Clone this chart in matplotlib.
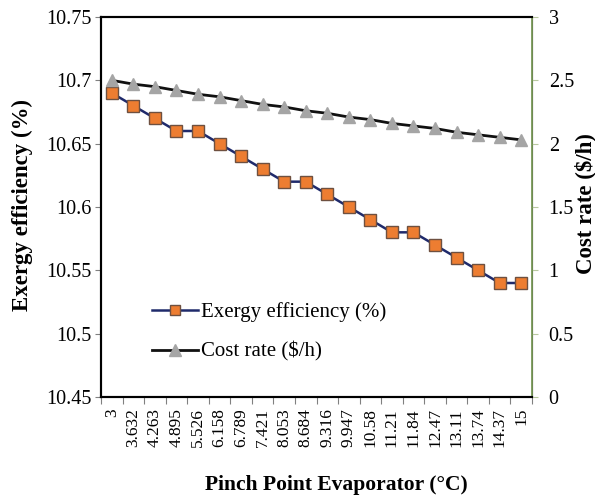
import matplotlib
matplotlib.use("Agg")
import matplotlib.pyplot as plt
from matplotlib.ticker import FixedLocator, NullFormatter, FixedFormatter

plt.rcParams['font.family'] = ['Liberation Serif', 'DejaVu Serif']

categories = ["3", "3.632", "4.263", "4.895", "5.526", "6.158", "6.789", "7.421",
              "8.053", "8.684", "9.316", "9.947", "10.58", "11.21", "11.84",
              "12.47", "13.11", "13.74", "14.37", "15"]
exergy = [10.69, 10.68, 10.67, 10.66, 10.66, 10.65, 10.64, 10.63, 10.62, 10.62,
          10.61, 10.60, 10.59, 10.58, 10.58, 10.57, 10.56, 10.55, 10.54, 10.54]
cost = [2.50, 2.47, 2.45, 2.42, 2.39, 2.37, 2.34, 2.31, 2.29, 2.26,
        2.24, 2.21, 2.19, 2.16, 2.14, 2.12, 2.09, 2.07, 2.05, 2.03]
left_ticks = [10.45, 10.5, 10.55, 10.6, 10.65, 10.7, 10.75]
left_labels = ["10.45", "10.5", "10.55", "10.6", "10.65", "10.7", "10.75"]
right_ticks = [0, 0.5, 1, 1.5, 2, 2.5, 3]
right_labels = ["0", "0.5", "1", "1.5", "2", "2.5", "3"]

W, H = 595, 500
fig = plt.figure(figsize=(5.95, 5.0), dpi=100)
ax = fig.add_axes([101/W, 1 - 397/H, (532-101)/W, (397-17)/H])
ax2 = ax.twinx()

x = list(range(len(categories)))
l1, = ax.plot(x, exergy, color='#1F2A6B', lw=1.8, marker='s', ms=8.5,
              mfc='#ED7D31', mec='#6E5040', mew=1.0, label='Exergy efficiency (%)', zorder=3)
l2, = ax2.plot(x, cost, color='#111111', lw=2.0, marker='^', ms=9,
               mfc='#A5A5A5', mec='#A5A5A5', label='Cost rate ($/h)', zorder=3)

ax.set_xlim(-0.5, len(categories) - 0.5)
ax.set_ylim(10.45, 10.75)
ax2.set_ylim(0, 3)

ax.yaxis.set_major_locator(FixedLocator(left_ticks))
ax.yaxis.set_major_formatter(FixedFormatter(left_labels))
ax2.yaxis.set_major_locator(FixedLocator(right_ticks))
ax2.yaxis.set_major_formatter(FixedFormatter(right_labels))

ax.xaxis.set_major_locator(FixedLocator([i - 0.5 for i in range(len(categories) + 1)]))
ax.xaxis.set_major_formatter(NullFormatter())
ax.xaxis.set_minor_locator(FixedLocator(x))
ax.xaxis.set_minor_formatter(FixedFormatter(categories))
ax.tick_params(axis='x', which='major', direction='out', length=5, color='#808080')
ax.tick_params(axis='x', which='minor', length=0, labelsize=12.5, labelrotation=90, pad=8)

ax.tick_params(axis='y', direction='out', length=4, color='#808080', labelsize=14.5, pad=3)
ax2.tick_params(axis='y', direction='out', length=4, color='#B8C8A0', labelsize=14.5, pad=8)

for s in ['left', 'top', 'bottom']:
    ax.spines[s].set_color('black')
    ax.spines[s].set_linewidth(1.5)
ax2.spines['right'].set_color('#7A9A5A')
ax2.spines['right'].set_linewidth(1.3)
ax2.spines['top'].set_linewidth(1.5)
ax2.spines['left'].set_linewidth(1.5)
ax2.spines['bottom'].set_linewidth(1.5)

fig.text(22/W, 1 - 205/H, 'Exergy efficiency (%)', fontsize=16.5, fontweight='bold',
         rotation=90, ha='center', va='center')
fig.text(585/W, 1 - 204/H, 'Cost rate ($/h)', fontsize=16.5, fontweight='bold',
         rotation=90, ha='center', va='center')
fig.text(336/W, 1 - 485/H, 'Pinch Point Evaporator (°C)', fontsize=15.5, fontweight='bold',
         ha='center', va='center')

leg = ax.legend(handles=[l1, l2], loc='center left',
                bbox_to_anchor=(51/431, (397 - 332)/380),
                frameon=False, fontsize=15, handlelength=2.2, handletextpad=0.15,
                labelspacing=0.95, borderaxespad=0, borderpad=0, markerscale=0.9)

fig.savefig('out.png', dpi=100)
